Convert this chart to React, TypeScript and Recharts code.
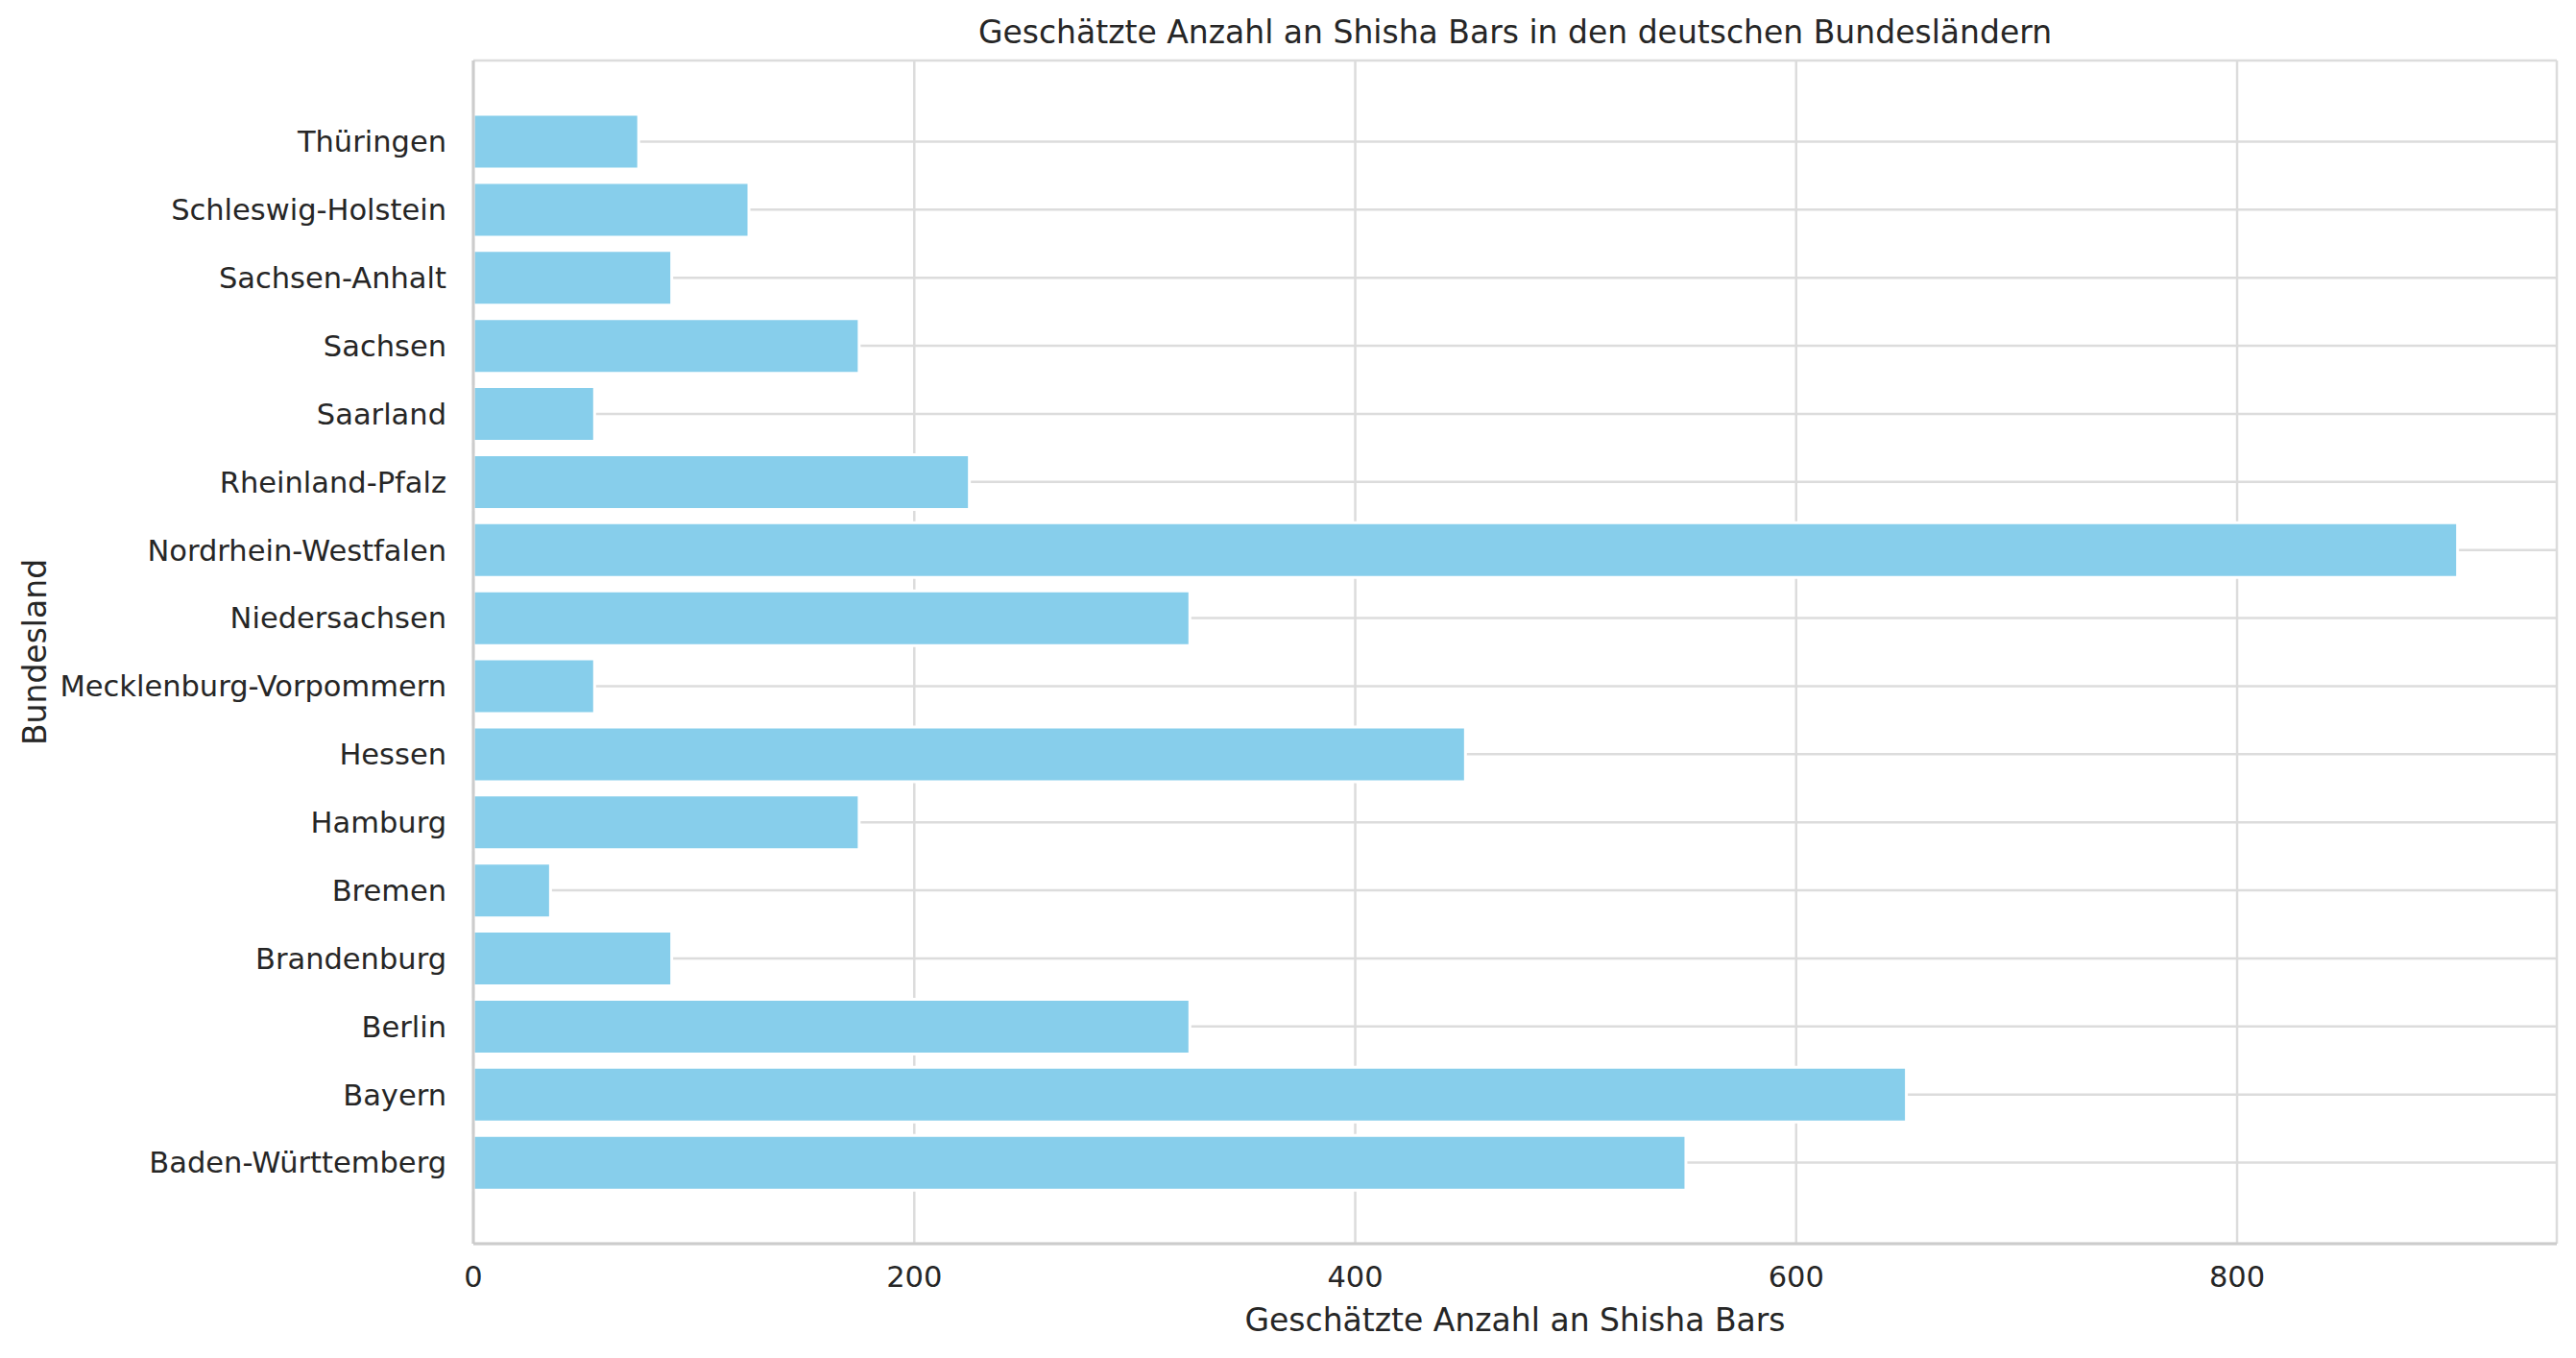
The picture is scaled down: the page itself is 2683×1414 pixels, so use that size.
import { Bar, BarChart, CartesianGrid, Label, XAxis, YAxis } from "recharts";

const states = [
  "Baden-Württemberg",
  "Bayern",
  "Berlin",
  "Brandenburg",
  "Bremen",
  "Hamburg",
  "Hessen",
  "Mecklenburg-Vorpommern",
  "Niedersachsen",
  "Nordrhein-Westfalen",
  "Rheinland-Pfalz",
  "Saarland",
  "Sachsen",
  "Sachsen-Anhalt",
  "Schleswig-Holstein",
  "Thüringen",
];
const shishaBars = [550, 650, 325, 90, 35, 175, 450, 55, 325, 900, 225, 55, 175, 90, 125, 75];
const xTicks = [0, 200, 400, 600, 800];

const TITLE = "Geschätzte Anzahl an Shisha Bars in den deutschen Bundesländern";
const X_LABEL = "Geschätzte Anzahl an Shisha Bars";
const Y_LABEL = "Bundesland";

const data = states.map((name, i) => ({ name, value: shishaBars[i] }));
const xMax = Math.max(...shishaBars) * 1.05;

const FONT = "DejaVu Sans";
const TEXT = "#262626";
const BAR = "#87ceeb";
const GRID = "#dcdcdc";
const FRAME = { stroke: "#cccccc", strokeWidth: 3 };

export default function App() {
  return (
    <div style={{ position: "absolute", left: 0, top: 0, width: 2683, height: 1414, background: "#fff", fontFamily: FONT }}>
      <div
        style={{
          position: "absolute",
          left: 493,
          width: 2170,
          top: 14,
          lineHeight: "40px",
          fontSize: 33,
          color: TEXT,
          textAlign: "center",
        }}
      >
        {TITLE}
      </div>
      <BarChart
        width={2683}
        height={1414}
        data={data}
        layout="vertical"
        margin={{ top: 63, right: 20, bottom: 0, left: 53 }}
      >
        <CartesianGrid stroke={GRID} strokeWidth={2.5} />
        <XAxis
          type="number"
          domain={[0, xMax]}
          ticks={xTicks}
          height={119}
          axisLine={FRAME}
          tickLine={false}
          tickSize={0}
          tickMargin={23}
          tick={{ fill: TEXT, fontSize: 30.5, fontFamily: FONT }}
        >
          <Label
            content={() => (
              <text x={1578} y={1374} textAnchor="middle" dominantBaseline="central" fill={TEXT} fontSize={33} fontFamily={FONT}>
                {X_LABEL}
              </text>
            )}
          />
        </XAxis>
        <XAxis
          xAxisId="top"
          orientation="top"
          type="number"
          domain={[0, xMax]}
          height={0}
          axisLine={FRAME}
          tick={false}
          tickLine={false}
        />
        <YAxis
          type="category"
          dataKey="name"
          reversed
          width={440}
          padding={{ top: 49, bottom: 49 }}
          axisLine={FRAME}
          tickLine={false}
          tickSize={0}
          tickMargin={28}
          interval={0}
          tick={{ fill: TEXT, fontSize: 30.5, fontFamily: FONT }}
        >
          <Label
            content={() => (
              <text
                x={36}
                y={679}
                transform="rotate(-90, 36, 679)"
                textAnchor="middle"
                dominantBaseline="central"
                fill={TEXT}
                fontSize={33}
                fontFamily={FONT}
              >
                {Y_LABEL}
              </text>
            )}
          />
        </YAxis>
        <YAxis
          yAxisId="right"
          orientation="right"
          type="category"
          dataKey="name"
          width={0}
          axisLine={FRAME}
          tick={false}
          tickLine={false}
        />
        <Bar dataKey="value" fill={BAR} stroke="#ffffff" strokeWidth={3} isAnimationActive={false} />
      </BarChart>
    </div>
  );
}
